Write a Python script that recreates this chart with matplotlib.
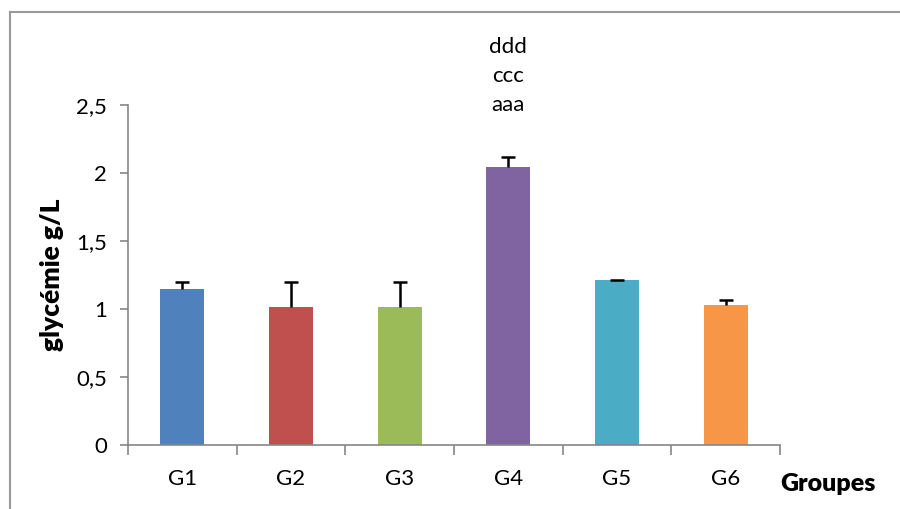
import matplotlib.pyplot as plt
from matplotlib.lines import Line2D
from matplotlib.ticker import FixedLocator, FuncFormatter
import numpy as np

# data
groupes = ['G1', 'G2', 'G3', 'G4', 'G5', 'G6']
glycemie = [1.144, 1.018, 1.018, 2.046, 1.21, 1.033]
erreur = [0.056, 0.18, 0.18, 0.07, 0.004, 0.03]
couleurs = ['#4F81BD', '#C0504D', '#9BBB59', '#8064A2', '#4BACC6', '#F79646']
lettres_g4 = ['aaa', 'ccc', 'ddd']

plt.rcParams['font.family'] = ['Lato', 'DejaVu Sans']

fig = plt.figure(figsize=(9, 5.09), dpi=100)
ax = fig.add_axes([128 / 900, 1 - 445 / 509, 652 / 900, 340 / 509])

x = np.arange(len(groupes))
ax.bar(x, glycemie, width=0.405, color=couleurs, zorder=2)
# only the upper half of the error bar, like excel "plus" bars
_, caps, _ = ax.errorbar(x, glycemie, yerr=[np.zeros(len(erreur)), erreur], fmt='none',
                         ecolor='black', elinewidth=1.8, capsize=5, capthick=1.8, zorder=3)
caps[0].set_visible(False)

ax.set_xlim(-0.5, len(groupes) - 0.5)
ax.set_ylim(0, 2.5)

# y axis ticks with comma decimals
ax.yaxis.set_major_locator(FixedLocator([0, 0.5, 1, 1.5, 2, 2.5]))
ax.yaxis.set_major_formatter(FuncFormatter(lambda v, p: ('%g' % v).replace('.', ',')))

# x ticks between categories, labels centered
ax.set_xticks(np.arange(-0.5, len(groupes), 1.0))
ax.set_xticklabels([])
ax.set_xticks(x, minor=True)
ax.set_xticklabels(groupes, minor=True)
ax.tick_params(axis='x', which='minor', length=0, pad=17, labelsize=16)
ax.tick_params(axis='x', which='major', length=7, color='#868686', width=1.2)
ax.tick_params(axis='y', length=6, color='#868686', width=1.2, labelsize=16, pad=9)

for side in ['top', 'right']:
    ax.spines[side].set_visible(False)
for side in ['left', 'bottom']:
    ax.spines[side].set_color('#868686')
    ax.spines[side].set_linewidth(1.2)

ax.set_ylabel('glycémie g/L', fontsize=19, fontweight='heavy', labelpad=9)
ax.text(1.0, -0.115, 'Groupes', transform=ax.transAxes, fontsize=18,
        fontweight='heavy', ha='left', va='center')

# significance letters above G4
for i, lab in enumerate(lettres_g4):
    ax.text(3, 2.5 + i * 0.215, lab, ha='center', va='center', fontsize=16,
            clip_on=False)

# outer chart frame (only top and left visible in the crop)
fig.add_artist(Line2D([10 / 900, 10 / 900], [0, 1 - 12 / 509],
                      transform=fig.transFigure, color='#9a9a9a', lw=1.5))
fig.add_artist(Line2D([10 / 900, 1], [1 - 12 / 509, 1 - 12 / 509],
                      transform=fig.transFigure, color='#9a9a9a', lw=1.5))

fig.savefig('out.png', dpi=100)
